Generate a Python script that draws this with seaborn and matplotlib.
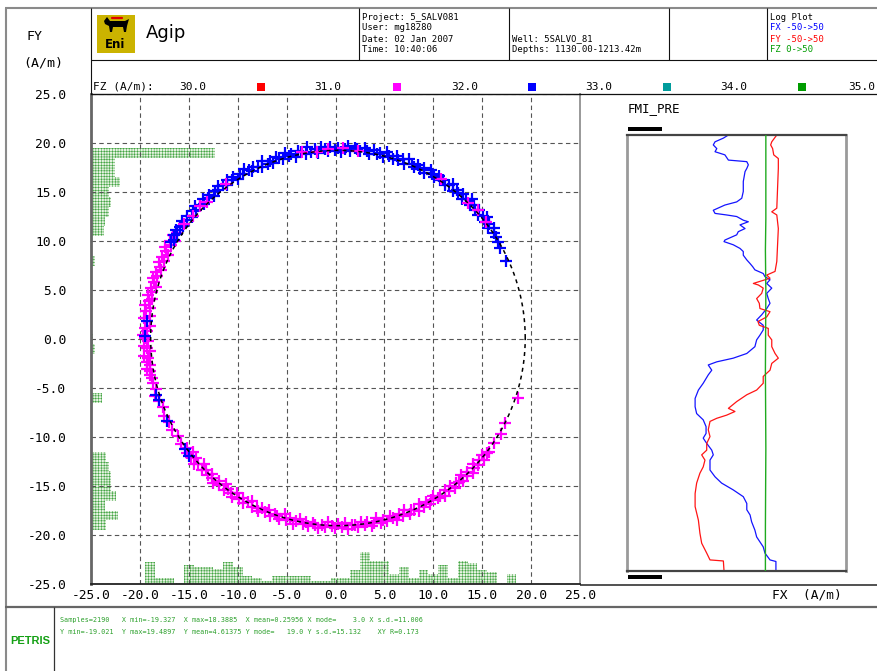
import numpy as np
import matplotlib
matplotlib.use("Agg")
import matplotlib.pyplot as plt
from matplotlib.patches import Rectangle, Polygon
import seaborn as sns

# ------------------------------------------------------------------ data
# fitted circle (dashed black line)
fit_center_x = 0.25
fit_center_y = 0.1
fit_radius = 19.15

# crossplot samples, FZ 31-32 (magenta): angle (deg) and radius around the fit centre
magenta_deg = [
    147.0, 148.0, 149.2, 150.1, 151.0, 152.3, 153.1, 154.0, 155.2, 156.1,
    157.0, 158.3, 159.1, 160.0, 161.2, 162.1, 163.0, 164.3, 165.1, 166.0,
    167.2, 168.1, 169.0, 170.3, 171.1, 172.0, 173.2, 174.1, 175.0, 176.3,
    177.1, 178.0, 179.2, 180.1, 181.0, 182.3, 183.1, 184.0, 185.2, 186.1,
    187.0, 188.3, 189.1, 190.0, 191.2, 192.1,
    193.5, 195.5, 197.5, 199.5, 201.5, 204.0, 206.5, 209.0, 211.5, 214.0,
    216.0, 217.2, 218.1, 219.0, 220.3, 221.1, 222.0, 223.2, 224.1, 225.0,
    226.3, 227.1, 228.0, 229.2, 230.1, 231.0, 232.3, 233.1, 234.0, 235.2,
    236.1, 237.0, 238.3, 239.1, 240.0, 241.2, 242.1, 243.0, 244.3, 245.1,
    246.0, 247.2, 248.1, 249.0, 250.3, 251.1, 252.0, 253.2, 254.1, 255.0,
    256.3, 257.1, 258.0, 259.2, 260.1, 261.0, 262.3, 263.1, 264.0, 265.2,
    266.1, 267.0, 268.3, 269.1, 270.0, 271.2, 272.1, 273.0, 274.3, 275.1,
    276.0, 277.2, 278.1, 279.0, 280.3, 281.1, 282.0, 283.2, 284.1, 285.0,
    286.3, 287.1, 288.0, 289.2, 290.1, 291.0, 292.3, 293.1, 294.0, 295.2,
    296.1, 297.0, 298.3, 299.1, 300.0, 301.2, 302.1, 303.0, 304.3, 305.1,
    306.0, 307.2, 308.1, 309.0, 310.3, 311.1, 312.0, 313.2, 314.1, 315.0,
    316.3, 317.1, 318.0, 319.2, 320.1, 321.0, 322.3, 323.1,
    326.0, 329.5, 333.0, 341.5]
magenta_r = [
    19.6, 19.9, 19.4, 19.8, 19.5, 20.0, 19.7, 19.3, 19.8, 19.5,
    19.9, 19.6, 19.4, 19.8, 19.5, 19.9, 19.7, 19.3, 19.8, 19.6,
    19.9, 19.4, 19.7, 20.0, 19.5, 19.8, 19.4, 19.9, 19.6, 19.3,
    19.8, 19.5, 19.9, 19.7, 19.4, 19.8, 19.6, 19.3, 19.9, 19.5,
    19.7, 19.4, 19.8, 19.5, 19.6, 19.4,
    19.5, 19.3, 19.6, 19.4, 19.2, 19.5, 19.3, 19.4, 19.2, 19.3,
    19.1, 19.4, 18.8, 19.3, 19.0, 19.5, 19.2, 18.8, 19.4, 19.1,
    19.3, 18.9, 19.2, 19.5, 19.0, 19.3, 18.8, 19.4, 19.1, 19.2,
    19.5, 18.9, 19.3, 19.0, 19.4, 19.1, 18.8, 19.3, 19.2, 19.5,
    19.0, 19.3, 18.9, 19.4, 19.1, 19.2, 19.4, 18.8, 19.3, 19.0,
    19.5, 19.2, 18.9, 19.3, 19.1, 19.4, 19.0, 19.2, 19.5, 19.1,
    19.3, 18.8, 19.2, 19.4, 19.0, 19.3, 18.9, 19.5, 19.1, 19.2,
    19.4, 18.9, 19.3, 19.0, 19.5, 19.2, 18.8, 19.4, 19.1, 19.3,
    18.9, 19.2, 19.5, 19.0, 19.3, 18.8, 19.4, 19.1, 19.2, 19.5,
    18.9, 19.3, 19.0, 19.4, 19.1, 18.8, 19.3, 19.2, 19.5, 19.0,
    19.3, 18.9, 19.4, 19.1, 19.2, 19.4, 18.8, 19.3, 19.0, 19.5,
    19.2, 18.9, 19.3, 19.1, 19.4, 19.0, 19.2, 19.3,
    19.2, 19.3, 19.2, 19.4]
# FZ 32-33 (blue)
blue_deg = [
    34.0, 35.2, 36.1, 37.0, 38.3, 39.1, 40.0, 41.2, 42.1, 43.0,
    44.3, 45.1, 46.0, 47.2, 48.1, 49.0, 50.3, 51.1, 52.0, 53.2,
    54.1, 55.0, 56.3, 57.1, 58.0, 59.2, 60.1, 61.0, 62.3, 63.1,
    64.0, 65.2, 66.1, 67.0, 68.3, 69.1, 70.0, 71.2, 72.1, 73.0,
    74.3, 75.1, 76.0, 77.2, 78.1, 79.0, 80.3, 81.1, 82.0, 83.2,
    84.1, 85.0, 86.3, 87.1, 88.0, 89.2, 90.1, 91.0, 92.3, 93.1,
    94.0, 95.2, 96.1, 97.0, 98.3, 99.1, 100.0, 101.2, 102.1, 103.0,
    104.3, 105.1, 106.0, 107.2, 108.1, 109.0, 110.3, 111.1, 112.0, 113.2,
    114.1, 115.0, 116.3, 117.1, 118.0, 119.2, 120.1, 121.0, 122.3, 123.1,
    124.0, 125.2, 126.1, 127.0, 128.3, 129.1, 130.0, 131.2, 132.1, 133.0,
    134.3, 135.1, 136.0, 137.2, 138.1, 139.0, 140.3, 141.1, 142.0, 143.2,
    144.1, 145.0, 146.3, 147.1, 148.0, 149.2, 150.1,
    24.5, 29.0, 31.0, 32.5, 175.0, 179.5, 197.5, 199.0, 206.0, 216.0, 218.5]
blue_r = [
    19.2, 19.5, 19.0, 19.4, 19.1, 19.6, 19.3, 19.0, 19.5, 19.2,
    19.4, 19.1, 19.7, 19.3, 19.0, 19.5, 19.2, 19.4, 19.1, 19.6,
    19.3, 19.0, 19.4, 19.2, 19.5, 19.1, 19.3, 19.6, 19.0, 19.4,
    19.2, 19.5, 19.1, 19.3, 19.7, 19.0, 19.4, 19.2, 19.5, 19.1,
    19.3, 19.6, 19.0, 19.4, 19.2, 19.5, 19.1, 19.3, 19.6, 19.2,
    19.4, 19.5, 19.1, 19.6, 19.3, 19.0, 19.4, 19.2, 19.5, 19.1,
    19.3, 19.6, 19.0, 19.4, 19.2, 19.7, 19.1, 19.3, 19.5, 19.0,
    19.4, 19.2, 19.6, 19.1, 19.3, 19.5, 19.0, 19.4, 19.2, 19.6,
    19.1, 19.3, 19.5, 19.2, 19.4, 19.7, 19.3, 19.5, 19.2, 19.6,
    19.4, 19.7, 19.3, 19.5, 19.8, 19.4, 19.6, 19.3, 19.7, 19.5,
    19.8, 19.4, 19.6, 19.9, 19.5, 19.7, 19.4, 19.8, 19.6, 19.9,
    19.5, 19.7, 19.9, 19.6, 19.8, 19.5, 19.7,
    18.9, 19.0, 19.1, 19.2, 19.6, 19.7, 19.5, 19.4, 19.4, 19.3, 19.4]
# FZ 31-32 samples lying among the blue ones on the upper arc
magenta_top_deg = [38, 42.5, 46, 57, 84, 88.5, 93, 96.5, 101, 126, 134, 136.5, 140, 143.5]
magenta_top_r = [19.2, 19.4, 19.1, 19.3, 19.2, 19.4, 19.3, 19.1, 19.3, 19.4, 19.3, 19.5, 19.4, 19.6]

# marginal histograms (sample counts per 1 A/m bin)
x_hist_centers = [-19, -18, -17, -16, -15, -14, -13, -12, -11, -10, -9, -8, -7, -6, -5,
                  -4, -3, -2, -1, 0, 1, 2, 3, 4, 5, 6, 7, 8, 9, 10, 11, 12, 13, 14,
                  15, 16, 17, 18]
x_hist_counts = [103, 27, 27, 6, 91, 80, 80, 71, 102, 80, 36, 27, 16, 36, 36,
                 36, 36, 16, 16, 27, 27, 67, 152, 110, 110, 47, 78, 27, 67, 47, 88, 27, 110, 99,
                 67, 56, 6, 47]
y_hist_centers = [-19, -18, -17, -16, -15, -14, -13, -12, -11, -10, -9, -8, -7, -6, -5,
                  -4, -3, -2, -1, 0, 1, 2, 3, 4, 5, 6, 7, 8, 9, 10, 11, 12, 13, 14,
                  15, 16, 17, 18, 19]
y_hist_counts = [72, 127, 64, 116, 95, 95, 85, 72, 0, 0, 6, 0, 0, 53, 0,
                 0, 6, 6, 17, 9, 6, 6, 0, 0, 0, 0, 0, 17, 0, 6, 60, 64, 85, 95,
                 85, 135, 111, 111, 581]
counts_per_axis_unit = 46

# log plot (depth in m)
fx_depth = [1130.0, 1130.6, 1131.3, 1131.9, 1132.6, 1133.2, 1133.8, 1134.8, 1135.1, 1135.7,
            1136.4, 1137.0, 1138.9, 1140.8, 1142.1, 1142.8, 1143.4, 1144.4, 1145.0, 1145.3,
            1145.6, 1146.3, 1146.6, 1147.2, 1147.9, 1148.5, 1149.1, 1150.1, 1150.4, 1151.0,
            1151.7, 1152.3, 1153.0, 1153.9, 1154.6, 1155.2, 1155.8, 1156.5, 1157.1, 1157.7,
            1158.4, 1159.3, 1160.3, 1161.3, 1162.2, 1163.2, 1164.4, 1165.4, 1166.4, 1167.3,
            1168.3, 1169.2, 1170.5, 1171.8, 1172.7, 1173.4, 1174.0, 1175.0, 1175.9, 1177.5,
            1178.8, 1180.4, 1182.0, 1183.3, 1184.5, 1185.8, 1187.1, 1188.0, 1189.0, 1190.3,
            1191.2, 1192.2, 1194.1, 1195.4, 1196.6, 1197.9, 1199.2, 1200.5, 1201.7, 1202.7,
            1204.0, 1205.6, 1206.9, 1208.8, 1210.0, 1211.3, 1211.6, 1213.4]
fx_val = [-3.7, -6.0, -9.8, -10.6, -9.0, -9.8, -5.3, -3.7, 4.7, 5.4,
          4.7, 3.9, 3.1, 3.1, 2.4, 0.1, -5.3, -10.6, -9.8, -4.5,
          0.1, 3.1, 5.4, 1.6, 3.9, 0.8, 0.1, -5.3, -5.7, -1.5,
          1.6, 3.1, 3.1, 4.7, 6.2, 7.4, 8.4, 12.2, 13.0, 15.3,
          13.8, 16.1, 13.8, 14.5, 15.3, 13.8, 11.5, 9.2, 12.2, 12.2,
          10.7, 9.2, 8.4, 4.7, -1.5, -9.0, -12.9, -11.3, -12.9, -15.2,
          -17.4, -18.9, -18.9, -18.2, -15.2, -13.9, -13.9, -15.2, -13.6, -11.3,
          -10.6, -12.1, -12.1, -9.8, -6.8, -1.5, 3.1, 4.7, 4.7, 6.2,
          6.9, 8.4, 9.2, 12.2, 13.0, 15.3, 18.0, 18.0]
fy_depth = [1130.0, 1131.3, 1131.9, 1132.6, 1133.8, 1134.5, 1136.4, 1144.0, 1144.7, 1145.3,
            1147.9, 1154.2, 1156.1, 1156.8, 1157.4, 1158.4, 1158.7, 1159.3, 1160.3, 1161.3,
            1162.2, 1163.2, 1163.8, 1164.8, 1165.7, 1166.4, 1167.0, 1168.3, 1169.2, 1170.5,
            1171.8, 1172.7, 1173.7, 1175.0, 1176.2, 1177.5, 1178.8, 1179.7, 1181.0, 1182.3,
            1182.9, 1183.6, 1184.2, 1184.8, 1186.4, 1187.7, 1189.0, 1190.3, 1191.2, 1192.2,
            1193.5, 1194.7, 1196.6, 1198.6, 1201.1, 1203.7, 1206.2, 1208.1, 1210.0, 1211.3,
            1211.5, 1213.4]
fy_val = [18.4, 16.1, 15.6, 16.5, 17.0, 19.1, 19.1, 18.4, 16.1, 18.4,
          19.1, 18.4, 17.6, 13.8, 15.3, 7.7, 10.0, 12.2, 11.5, 9.2,
          10.4, 10.7, 15.3, 13.8, 9.8, 10.4, 14.5, 14.5, 16.1, 16.1,
          17.6, 19.1, 16.1, 15.3, 12.2, 12.2, 9.2, 4.7, 0.1, -3.7,
          -0.7, -4.5, -9.0, -12.1, -12.9, -12.1, -13.6, -13.6, -15.9, -14.4,
          -15.2, -16.7, -18.2, -18.9, -18.9, -17.4, -16.7, -15.9, -13.6, -12.1,
          -6.0, -5.7]
fz_depth = [1130.0, 1146.0, 1152.0, 1160.0, 1175.0, 1190.0, 1205.0, 1213.4]
fz_val = [31.7, 31.7, 31.6, 31.7, 31.6, 31.7, 31.6, 31.6]
log_top, log_bottom = 1130.0, 1213.42

tick_vals = [-25, -20, -15, -10, -5, 0, 5, 10, 15, 20, 25]
tick_labels = ["-25.0", "-20.0", "-15.0", "-10.0", "-5.0", "0.0", "5.0", "10.0",
               "15.0", "20.0", "25.0"]
fz_class_labels = ["30.0", "31.0", "32.0", "33.0", "34.0", "35.0"]
fz_class_colors = ["#ff0000", "#ff00ff", "#0000ff", "#009c9c", "#009c00"]

stats_line1 = "Samples=2190   X min=-19.327  X max=18.3885  X mean=0.25956 X mode=    3.0 X s.d.=11.006"
stats_line2 = "Y min=-19.021  Y max=19.4897  Y mean=4.61375 Y mode=   19.0 Y s.d.=15.132    XY R=0.173"

# ------------------------------------------------------------------ style
sns.set_theme(style="white")
plt.rcParams["font.family"] = ["DejaVu Sans Mono", "DejaVu Sans"]
plt.rcParams["axes.unicode_minus"] = False
plt.rcParams["hatch.linewidth"] = 0.4
plt.rcParams["hatch.color"] = "#44a544"

W, H = 877, 671
fig = plt.figure(figsize=(W / 100, H / 100), dpi=100, facecolor="white")


def rect(l, t, r, b):
    return [l / W, 1 - b / H, (r - l) / W, (b - t) / H]


MAIN = rect(91, 94, 580, 584)
hist_style = dict(color="#e6f3e2", edgecolor="#44a544", linewidth=0, hatch="++++++",
                  alpha=1, binwidth=1)

# left marginal histogram (FY)
ax_hl = fig.add_axes(MAIN, label="hist_y", zorder=1)
sns.histplot(y=y_hist_centers, weights=y_hist_counts, binrange=(-20.5, 20.5),
             ax=ax_hl, **hist_style)
ax_hl.set_xlim(0, 50 * counts_per_axis_unit)
ax_hl.set_ylim(-25, 25)
ax_hl.axis("off")

# bottom marginal histogram (FX)
ax_hb = fig.add_axes(MAIN, label="hist_x", zorder=1)
sns.histplot(x=x_hist_centers, weights=x_hist_counts, binrange=(-19.5, 18.5),
             ax=ax_hb, **hist_style)
ax_hb.set_ylim(0, 50 * counts_per_axis_unit)
ax_hb.set_xlim(-25, 25)
ax_hb.axis("off")

# main crossplot
ax = fig.add_axes(MAIN, label="main", zorder=2)
ax.set_facecolor("none")


def polar_xy(deg, r):
    n = min(len(deg), len(r))
    a = np.radians(np.asarray(deg[:n], dtype=float))
    rr = np.asarray(r[:n], dtype=float)
    return fit_center_x + rr * np.cos(a), fit_center_y + rr * np.sin(a)


mx, my = polar_xy(magenta_deg, magenta_r)
bx, by = polar_xy(blue_deg, blue_r)
tx, ty = polar_xy(magenta_top_deg, magenta_top_r)
mk = dict(marker="+", s=70, linewidth=1.6, ax=ax, legend=False)
sns.scatterplot(x=mx, y=my, color="#ff00ff", zorder=3, **mk)
sns.scatterplot(x=bx, y=by, color="#0000ff", zorder=3, **mk)
sns.scatterplot(x=tx, y=ty, color="#ff00ff", zorder=3, **mk)

theta = np.linspace(0, 2 * np.pi, 361)
sns.lineplot(x=fit_center_x + fit_radius * np.cos(theta),
             y=fit_center_y + fit_radius * np.sin(theta),
             sort=False, estimator=None, color="black", linewidth=1.1,
             linestyle=(0, (2.6, 2.6)), ax=ax, zorder=4)

ax.set_xlim(-25, 25)
ax.set_ylim(-25, 25)
ax.set_xticks(tick_vals)
ax.set_xticklabels(tick_labels, fontsize=9.3, color="black")
ax.set_yticks(tick_vals)
ax.set_yticklabels(tick_labels, fontsize=9.3, color="black")
ax.tick_params(axis="x", length=0, pad=3.5)
ax.tick_params(axis="y", length=0, pad=18)
ax.grid(True, color="#555555", linewidth=0.8, linestyle=(0, (4, 3)))
ax.set_xlabel("")
ax.set_ylabel("")
ax.spines["left"].set_color("#666666")
ax.spines["left"].set_linewidth(2.0)
ax.spines["right"].set_color("#999999")
ax.spines["right"].set_linewidth(1.4)
ax.spines["top"].set_color("#111111")
ax.spines["top"].set_linewidth(1.0)
ax.spines["bottom"].set_color("#222222")
ax.spines["bottom"].set_linewidth(1.3)

# log plot
ax_log = fig.add_axes(rect(627, 135, 846, 571), label="log", zorder=2)
sns.lineplot(x=fx_val, y=fx_depth, sort=False, estimator=None, color="#1414ff",
             linewidth=0.9, ax=ax_log)
sns.lineplot(x=fy_val, y=fy_depth, sort=False, estimator=None, color="#ff1414",
             linewidth=0.9, ax=ax_log)
ax_log.set_xlim(-50, 50)
ax_log.set_ylim(log_bottom, log_top)
ax_fz = ax_log.twiny()
sns.lineplot(x=fz_val, y=fz_depth, sort=False, estimator=None, color="#1faa1f",
             linewidth=1.0, ax=ax_fz)
ax_fz.set_xlim(0, 50)
ax_fz.set_ylim(log_bottom, log_top)
for a in (ax_log, ax_fz):
    a.set_xticks([])
    a.set_yticks([])
    a.set_xlabel("")
    a.set_ylabel("")
for s in ("left", "right"):
    ax_log.spines[s].set_color("#9a9a9a")
    ax_log.spines[s].set_linewidth(2.0)
for s in ("top", "bottom"):
    ax_log.spines[s].set_color("#444444")
    ax_log.spines[s].set_linewidth(1.6)
for s in ax_fz.spines.values():
    s.set_visible(False)

# ------------------------------------------------------------------ page furniture (pixel overlay)
bg = fig.add_axes([0, 0, 1, 1], label="page", zorder=10)
bg.set_xlim(0, W)
bg.set_ylim(H, 0)
bg.axis("off")


def hl(y, x0, x1, c="#111111", lw=0.8):
    bg.plot([x0, x1], [y, y], color=c, lw=lw, solid_capstyle="butt")


def vl(x, y0, y1, c="#111111", lw=0.8):
    bg.plot([x, x], [y0, y1], color=c, lw=lw, solid_capstyle="butt")


hl(8, 5, 877, "#8a8a8a", 1.5)
vl(5.5, 8, 671, "#8a8a8a", 1.5)
hl(60, 91, 877)
for xd in (359, 509, 669, 767):
    vl(xd, 8, 60)
vl(91, 8, 94)
hl(94, 580, 877, "#111111", 0.9)
hl(585, 580, 877, "#222222", 1.1)
hl(607, 5, 877, "#666666", 1.6)
vl(54, 607, 671, "#333333", 0.9)

# logo
bg.add_patch(Rectangle((96.5, 14.5), 38.5, 38.5, facecolor="#cbb300", edgecolor="none"))
bg.add_patch(Polygon([(104, 21), (107, 17), (110, 21), (125, 21), (129, 19), (127, 26),
                      (126, 32), (124, 32), (123, 27), (113, 27), (112, 32), (110, 32),
                      (109, 26), (105, 24)], closed=True, facecolor="black", edgecolor="none"))
bg.plot([112, 122], [17.5, 17.5], color="#e00000", lw=1.6)
bg.text(115.5, 44.5, "Eni", fontsize=8.5, fontweight="bold", family="DejaVu Sans",
        ha="center", va="center", color="black")
bg.text(146, 33, "Agip", fontsize=13, family="DejaVu Sans", ha="left", va="center",
        color="black")

small = dict(fontsize=6.4, ha="left", va="center")
for i, t in enumerate(["Project: 5_SALV081", "User: mg18280", "Date: 02 Jan 2007",
                       "Time: 10:40:06"]):
    bg.text(362, 17 + i * 11, t, color="black", **small)
bg.text(512, 39, "Well: 5SALVO_81", color="black", **small)
bg.text(512, 50, "Depths: 1130.00-1213.42m", color="black", **small)
bg.text(770, 17, "Log Plot", color="black", **small)
bg.text(770, 28, "FX -50->50", color="#0000ff", **small)
bg.text(770, 39, "FY -50->50", color="#ff0000", **small)
bg.text(770, 50, "FZ 0->50", color="#009c00", **small)

bg.text(35, 37, "FY", fontsize=9.5, ha="center", va="center", color="black")
bg.text(43.5, 62.5, "(A/m)", fontsize=9.5, ha="center", va="center", color="black")

# FZ colour classes
bg.text(93, 86.5, "FZ (A/m):", fontsize=8, ha="left", va="center", color="black")
for lab, xc in zip(fz_class_labels, (193, 328, 464.5, 599, 734, 862)):
    bg.text(xc, 86.5, lab, fontsize=8, ha="center", va="center", color="black")
for col, xc in zip(fz_class_colors, (261, 397, 532, 667, 802)):
    bg.add_patch(Rectangle((xc - 4, 83), 8, 8, facecolor=col, edgecolor="none"))

# log panel header / footer
bg.text(628, 109, "FMI_PRE", fontsize=9, ha="left", va="center", color="black")
bg.add_patch(Rectangle((628, 126.5), 34, 4, facecolor="black", edgecolor="none"))
bg.add_patch(Rectangle((628, 574.5), 34, 4, facecolor="black", edgecolor="none"))
bg.text(772, 595, "FX  (A/m)", fontsize=9.3, ha="left", va="center", color="black")

# statistics footer
bg.text(60, 620, stats_line1, fontsize=4.9, ha="left", va="center", color="#2ca02c")
bg.text(60, 632, stats_line2, fontsize=4.9, ha="left", va="center", color="#2ca02c")
bg.text(30, 641, "PETRIS", fontsize=8, fontweight="bold", family="Liberation Sans",
        ha="center", va="center", color="#14a014")

fig.savefig("out.png", dpi=100, facecolor="white")
